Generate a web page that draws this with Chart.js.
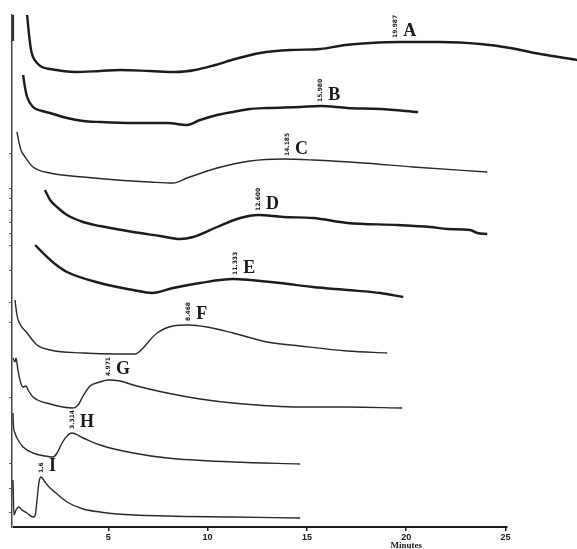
<!DOCTYPE html>
<html>
<head>
<meta charset="utf-8">
<script src="https://cdn.jsdelivr.net/npm/chart.js@4/dist/chart.umd.min.js"></script>
<style>
  html, body { margin: 0; padding: 0; background: #fff; }
  #wrap { width: 577px; height: 549px; }
</style>
</head>
<body>
<div id="wrap"><canvas id="chart"></canvas></div>
<script>
// stacked chromatograms, signal: [minutes, height]
const traceA = [[0.91,512],[1.01,492],[1.11,477],[1.21,470],[1.41,464],[1.66,460],[2.07,458],[3.32,455],[4.58,456],[5.59,457],[7.10,456],[8.36,455],[9.37,457],[10.38,462],[11.39,468],[12.64,474],[14.16,477],[15.67,478],[16.93,482],[18.19,484],[19.70,485],[21.71,485],[23.73,483],[25.24,479],[26.75,473],[28.61,467]];
const traceB = [[0.71,452],[0.81,439],[0.91,430],[1.21,420],[1.66,416],[2.07,414],[2.92,409],[3.73,406],[4.58,405],[6.25,404],[7.96,404],[8.97,402],[9.62,407],[10.48,412],[11.28,415],[12.14,418],[13.0,419],[14.66,420],[15.67,421],[17.03,419],[18.69,418],[20.6,415]];
const traceC = [[0.40,395],[0.50,385],[0.60,377],[0.81,370],[1.21,360],[2.07,354],[3.73,350],[5.44,347],[7.10,345],[8.26,344],[8.97,349],[10.48,359],[12.14,366],[13.8,368],[15.31,367],[17.83,364],[20.35,360],[24.08,355]];
const traceD = [[1.81,337],[2.07,327],[2.47,319],[2.92,312],[3.73,305],[4.58,301],[6.25,295],[7.61,291],[8.61,288],[9.27,290],[10.48,300],[11.64,309],[12.54,312],[13.8,310],[15.31,309],[17.03,304],[19.55,302],[21.21,300],[22.07,298],[23.22,297],[23.58,294],[24.08,293]];
const traceE = [[1.31,282],[1.71,274],[2.32,263],[2.92,255],[4.58,244],[6.25,237],[7.20,234],[8.26,239],[9.62,244],[11.28,248],[12.14,247],[13.65,244],[15.31,240],[17.03,237],[18.69,234],[19.85,230]];
const traceF = [[0.30,227],[0.40,212],[0.50,205],[0.91,194],[1.41,182],[2.07,177],[3.73,174],[5.44,173],[6.35,173],[6.75,179],[7.10,187],[7.46,194],[8.26,201],[9.02,202],[9.97,200],[11.28,194],[13.0,185],[14.66,181],[17.03,176],[19.04,174]];
const traceG = [[0.20,169],[0.30,165],[0.35,169],[0.45,157],[0.55,147],[0.71,140],[0.86,141],[0.96,137],[1.21,130],[2.07,123],[3.22,119],[3.48,122],[3.73,131],[4.08,141],[4.58,145],[4.99,147],[5.59,146],[6.25,142],[7.96,134],[9.62,128],[11.28,124],[14.66,120],[17.03,120],[19.8,119]];
const traceH = [[0.20,114],[0.22,102],[0.30,94],[0.40,89],[0.71,80],[1.21,74],[1.81,71],[2.22,70],[2.42,74],[2.67,84],[2.97,92],[3.17,94],[3.73,89],[4.58,82],[6.25,74],[7.96,69],[11.28,65],[14.66,63]];
const traceI = [[0.20,47],[0.25,12],[0.35,17],[0.50,20],[0.65,17],[0.90,14],[1.21,10],[1.31,11],[1.41,27],[1.51,45],[1.61,50],[1.81,45],[2.07,39],[2.42,33],[2.92,25],[3.73,18],[4.58,15],[5.44,13],[7.96,11],[11.28,10],[14.66,9]];
const solventSpike = [[0.18,512],[0.18,486]];

const traceNames = ['A', 'B', 'C', 'D', 'E', 'F', 'G', 'H', 'I'];
const peakTimes = [19.45, 15.67, 14.0, 12.54, 11.39, 9.02, 4.99, 3.17, 1.61];
const peakHeights = [485, 421, 367, 312, 248, 202, 147, 94, 50];
const peakLabels = ['19.987', '15.980', '14.185', '12.600', '11.333', '8.468', '4.971', '3.314', '1.6'];
const noisy = [true, true, false, true, true, false, false, false, false];

const xTicks = [5, 10, 15, 20, 25];
const yTicks = [15, 39, 64, 130, 205, 225, 257, 282, 294, 305, 317, 329, 339, 374];

const traces = [traceA, traceB, traceC, traceD, traceE, traceF, traceG, traceH, traceI];

const datasets = traces.map((t, i) => ({
  label: traceNames[i],
  data: t.map(p => ({ x: p[0], y: p[1] })),
  borderColor: noisy[i] ? '#1c1c1c' : '#2a2a2a',
  borderWidth: noisy[i] ? 2.4 : 1.4,
  pointRadius: 0,
  cubicInterpolationMode: 'monotone',
  fill: false
}));
datasets.push({
  label: 'spike',
  data: solventSpike.map(p => ({ x: p[0], y: p[1] })),
  borderColor: '#333',
  borderWidth: 3,
  pointRadius: 0
});

const decor = {
  id: 'decor',
  afterDraw(chart) {
    const ctx = chart.ctx;
    const xs = chart.scales.x, ys = chart.scales.y;
    const area = chart.chartArea;
    ctx.save();
    // time axis line, only over the recorded range
    ctx.strokeStyle = '#1a1a1a';
    ctx.lineWidth = 2;
    ctx.beginPath();
    ctx.moveTo(xs.getPixelForValue(0.2), area.bottom);
    ctx.lineTo(xs.getPixelForValue(25.1), area.bottom);
    ctx.stroke();

    ctx.fillStyle = '#1a1a1a';
    ctx.font = 'bold 9px "Liberation Serif"';
    ctx.textAlign = 'center';
    ctx.textBaseline = 'middle';
    ctx.fillText('Minutes', xs.getPixelForValue(20), area.bottom + 19);

    // peak markers and trace letters
    peakTimes.forEach((t, i) => {
      const px = xs.getPixelForValue(t);
      const py = ys.getPixelForValue(peakHeights[i]);
      ctx.save();
      ctx.translate(px, py - 4);
      ctx.rotate(-Math.PI / 2);
      ctx.font = 'bold 6px "DejaVu Sans"';
      ctx.textAlign = 'left';
      ctx.textBaseline = 'middle';
      ctx.fillStyle = '#222';
      ctx.fillText(peakLabels[i], 0, 0);
      ctx.restore();

      ctx.font = 'bold 18px "Liberation Serif"';
      ctx.textAlign = 'left';
      ctx.textBaseline = 'alphabetic';
      ctx.fillStyle = '#1a1a1a';
      ctx.fillText(traceNames[i], px + 8, py - 6);
    });
    ctx.restore();
  }
};

new Chart(document.getElementById('chart'), {
  type: 'line',
  data: { datasets },
  plugins: [decor],
  options: {
    responsive: true,
    maintainAspectRatio: false,
    animation: false,
    layout: { padding: { top: 15, right: 0, left: 0, bottom: 0 } },
    plugins: { legend: { display: false }, tooltip: { enabled: false } },
    scales: {
      x: {
        type: 'linear',
        min: 0.15,
        max: 28.6,
        afterBuildTicks: s => { s.ticks = xTicks.map(v => ({ value: v })); },
        afterFit: s => { s.height = 22; },
        border: { display: false },
        grid: { drawOnChartArea: false, drawTicks: true, tickLength: 4, color: '#1a1a1a', lineWidth: 1.5 },
        ticks: { color: '#1a1a1a', padding: 1, font: { family: 'Liberation Sans', weight: 'bold', size: 9 } }
      },
      y: {
        type: 'linear',
        min: 0,
        max: 512,
        afterBuildTicks: s => { s.ticks = yTicks.map(v => ({ value: v })); },
        afterFit: s => { s.width = 12; },
        border: { display: true, color: '#444', width: 1.5 },
        grid: { drawOnChartArea: false, drawTicks: true, tickLength: 3, color: '#666', lineWidth: 1 },
        ticks: { display: false }
      }
    }
  }
});
</script>
</body>
</html>
